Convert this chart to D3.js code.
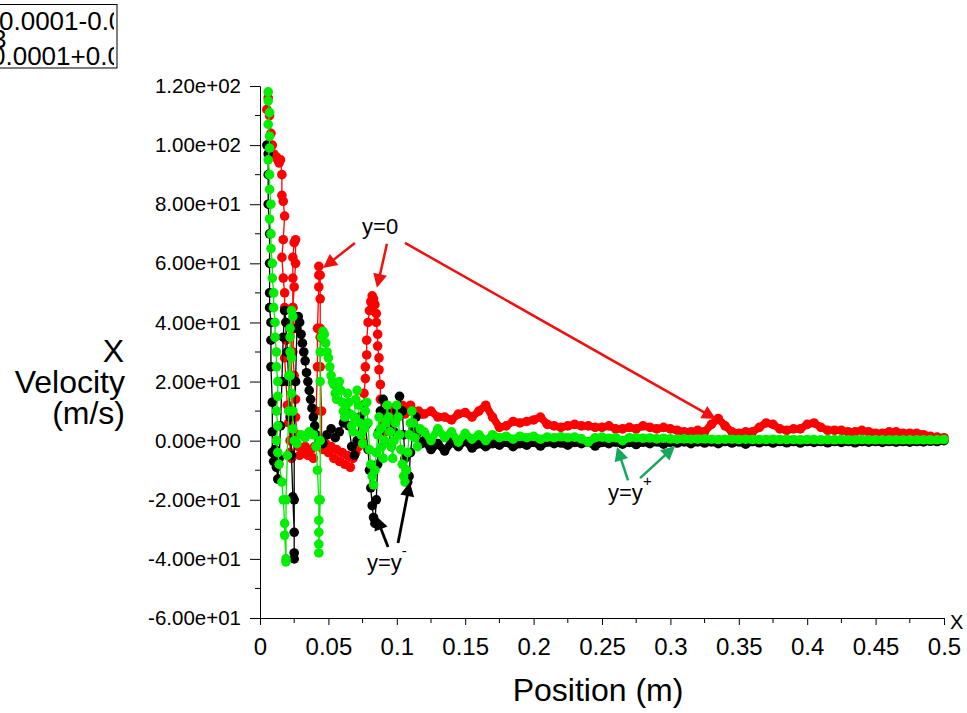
<!DOCTYPE html>
<html><head><meta charset="utf-8">
<script src="https://cdn.jsdelivr.net/npm/d3@7"></script>
<style>body{margin:0;background:#fff}svg{display:block;font-family:"Liberation Sans",Arial,sans-serif}</style>
</head><body><svg id="c" width="967" height="713"></svg>
<script>
// ---------- data ----------
const xTickValues = [0,0.05,0.1,0.15,0.2,0.25,0.3,0.35,0.4,0.45,0.5];
const xTickLabels = ["0","0.05","0.1","0.15","0.2","0.25","0.3","0.35","0.4","0.45","0.5"];
const yTickValues = [-60,-40,-20,0,20,40,60,80,100,120];
const yTickLabels = ["-6.00e+01","-4.00e+01","-2.00e+01","0.00e+00","2.00e+01","4.00e+01","6.00e+01","8.00e+01","1.00e+02","1.20e+02"];

const redEarly = [[0.005,112],[0.006,116],[0.007,110],[0.008,104],[0.009,100],[0.010,97],[0.012,96],[0.013,95],[0.014,94],[0.015,95],[0.016,90],[0.016,83],[0.017,81],[0.018,76],[0.017,68],[0.016,62],[0.017,55],[0.018,50],[0.018,45],[0.019,40],[0.019,34],[0.018,28],[0.019,20],[0.020,12],[0.021,6],[0.022,0],[0.022,-4],[0.023,-6],
 [0.023,10],[0.023,30],[0.024,45],[0.024,55],[0.024,62],[0.025,67],[0.026,68],[0.026,60],[0.025,52],[0.024,45],[0.025,38],[0.024,30],[0.025,22],[0.026,14],[0.026,8],[0.027,2],[0.028,-2],[0.029,-5],[0.031,-4],[0.033,-2],[0.035,-5],[0.037,-3],[0.039,-6],[0.040,-2],
 [0.041,10],[0.042,25],[0.042,38],[0.043,52],[0.043,56],[0.043,59],[0.044,56],[0.044,48],[0.044,38],[0.044,35],[0.044,25],[0.045,10],[0.045,0],[0.046,-3],[0.048,-1],[0.050,-4],[0.052,-2],[0.054,-6],[0.056,-3],[0.058,-7],[0.060,-4],[0.062,-8],[0.064,-5],[0.066,-9],[0.068,-6],[0.070,-4],[0.072,-2],[0.074,0],
 [0.075,5],[0.076,12],[0.076,16],[0.077,21],[0.077,25],[0.078,29],[0.078,34],[0.079,40],[0.080,44],[0.081,47],[0.082,49],[0.083,48],[0.084,46],[0.085,43],[0.085,40],[0.086,36],[0.086,32],[0.087,28],[0.087,24],[0.088,19],[0.088,14],[0.089,9],[0.090,5],
 [0.092,3],[0.094,6],[0.096,9],[0.098,11],[0.100,8],[0.102,10],[0.104,12],[0.106,9],[0.108,10],[0.110,12],[0.112,10],[0.114,8],[0.116,10],[0.118,9]];

const blackEarly = [[0.005,100],[0.006,97],[0.006,90],[0.006,80],[0.007,70],[0.007,60],[0.007,50],[0.007,45],[0.008,40],[0.008,34],[0.008,25],[0.009,13],[0.009,3],[0.009,-4],[0.010,-7],[0.011,-3],[0.012,-9],[0.013,-13],[0.014,-6],[0.015,5],[0.016,20],[0.017,35],[0.018,44],[0.019,40],[0.020,30],[0.021,20],[0.022,8],[0.023,-5],[0.024,-19],[0.025,-31],[0.025,-38],[0.025,-40],[0.025,-20],[0.025,0],[0.026,20],
 [0.027,38],[0.028,42],[0.029,40],[0.030,36],[0.031,33],[0.032,30],[0.033,27],[0.034,23],[0.035,20],[0.036,17],[0.037,14],[0.038,11],[0.039,8],[0.040,5],[0.041,2],[0.043,0],[0.046,-1],[0.049,2],[0.052,4],[0.055,1],[0.058,3],[0.061,6],[0.063,10],[0.065,5],[0.067,-2],[0.069,-5],[0.071,0],[0.073,8],[0.075,12],[0.077,5],[0.079,-3],
 [0.080,-10],[0.081,-16],[0.082,-22],[0.083,-26],[0.084,-28],[0.085,-20],[0.086,-8],[0.087,3],[0.088,10],[0.090,14],[0.092,10],[0.094,4],[0.096,-2],[0.098,3],[0.100,10],[0.102,15],[0.104,10],[0.105,2],[0.106,-6],[0.107,-10],[0.108,-14],[0.109,-12],[0.110,-4],[0.112,4],[0.114,8],[0.116,3],[0.118,-1]];

const greenEarly = [[0.006,118],[0.006,115],[0.007,111],[0.006,107],[0.007,103],[0.007,99],[0.006,95],[0.007,90],[0.007,85],[0.008,80],[0.007,75],[0.008,70],[0.008,65],[0.009,60],[0.009,55],[0.010,50],[0.010,45],[0.011,40],[0.011,35],[0.012,30],[0.012,25],[0.013,20],[0.013,15],[0.012,10],[0.013,5],[0.012,0],[0.013,-4],[0.014,-8],[0.016,-14],[0.017,-20],[0.018,-28],[0.018,-32],[0.019,-40],[0.019,-41],
 [0.019,-20],[0.020,-5],[0.021,10],[0.021,22],[0.022,30],[0.022,38],[0.023,44],[0.024,42],[0.022,35],[0.023,28],[0.022,22],[0.023,16],[0.024,10],[0.024,4],[0.025,0],[0.027,-1],[0.030,2],[0.033,1],[0.036,3],[0.039,2],[0.041,-2],[0.042,-10],[0.043,-20],[0.043,-27],[0.043,-31],[0.043,-35],[0.043,-38],[0.044,-20],[0.044,0],[0.044,20],[0.044,30],
 [0.045,35],[0.046,37],[0.047,36],[0.048,33],[0.049,30],[0.050,28],[0.051,25],[0.052,22],[0.053,20],[0.054,19],[0.055,16],[0.056,14],[0.057,18],[0.058,20],[0.059,17],[0.060,13],[0.061,10],[0.062,8],[0.063,12],[0.064,16],[0.065,13],[0.066,9],[0.067,5],[0.068,3],[0.069,8],[0.070,14],[0.071,17],[0.072,12],[0.073,6],[0.074,2],[0.075,-1],[0.076,4],[0.077,10],[0.078,13],[0.079,6],
 [0.080,-3],[0.081,-8],[0.082,-12],[0.083,-15],[0.084,-10],[0.085,-4],[0.086,2],[0.087,8],[0.088,4],[0.089,-2],[0.090,-6],[0.091,0],[0.092,6],[0.093,12],[0.094,8],[0.095,3],[0.096,-2],[0.097,-6],[0.098,0],[0.099,6],[0.100,12],[0.101,8],[0.102,2],[0.103,-3],[0.104,-8],[0.105,-12],[0.106,-14],[0.107,-10],[0.108,-4],[0.109,2],[0.110,6],[0.111,10],[0.112,6],[0.113,1],[0.115,-2],[0.117,4]];

const tailX = [0.120,0.125,0.130,0.135,0.140,0.145,0.150,0.155,0.160,0.165,
 0.170,0.175,0.180,0.185,0.190,0.195,0.200,0.205,0.210,0.215,
 0.220,0.225,0.230,0.235,0.240,0.245,0.250,0.255,0.260,0.265,
 0.270,0.275,0.280,0.285,0.290,0.295,0.300,0.305,0.310,0.315,
 0.320,0.325,0.330,0.335,0.340,0.345,0.350,0.355,0.360,0.365,
 0.370,0.375,0.380,0.385,0.390,0.395,0.400,0.405,0.410,0.415,
 0.420,0.425,0.430,0.435,0.440,0.445,0.450,0.455,0.460,0.465,
 0.470,0.475,0.480,0.485,0.490,0.495,0.500];
const redTail = [9,10,8,8,7,9,9.5,8,10,12,
 8,4.5,5,6.5,6,6.5,7,8,5.5,5,
 4.5,5,5.5,5,5,4.5,4.5,5,4,4,
 4.5,4,5,4.5,4,4.5,4,3.5,3,3,
 3.5,3,5.5,7.5,5,3,2.5,3,3,4.5,
 6,5.5,4,3.5,4,4,5.5,6,4.5,3.5,
 3.5,3.5,3,3,3.5,3,2.5,2.5,3,3,
 2.5,2.5,2.5,2,1.5,1.2,1];
const blackTail = [0,-3,-1,-3.5,-0.5,-2,0,-2.5,-1,-2,
 -1,-1.5,-0.5,-2,-1,-1.5,-0.5,-1.8,-0.5,-1,
 -0.8,-1.5,-0.6,-1,-0.5,-1.8,-0.6,-1,-0.5,-1.2,
 -0.6,-1.3,-0.5,-1,-0.4,-1.2,-0.5,-0.8,-0.4,-1,
 -0.4,-0.8,-0.4,-1,-0.3,-0.8,-0.4,-1.2,-0.3,-0.7,
 -0.3,-0.8,-0.3,-0.7,-0.3,-0.8,-0.3,-0.6,-0.3,-0.7,
 -0.3,-0.6,-0.3,-0.7,-0.3,-0.5,-0.3,-0.6,-0.3,-0.5,
 -0.3,-0.5,-0.3,-0.4,-0.2,-0.3,0];
const greenTail = [3,0,4,1,3,-0.5,2.5,0.5,2,0,
 2,1,1.5,0.5,1.5,1,1.5,0.5,1.2,1,
 1.3,1,1.2,0.6,-0.5,1,1.2,0.8,1,0,
 1,1,0.8,0.9,0.6,0.8,0.6,0.5,0.6,0.5,
 0.5,0.6,0.5,0.4,0.5,0.5,0.4,0.5,0.4,0.4,
 0.4,0.5,0.4,0.4,0.4,0.3,0.4,0.4,0.3,0.4,
 0.3,0.4,0.3,0.3,0.4,0.3,0.3,0.3,0.3,0.3,
 0.3,0.3,0.3,0.3,0.3,0.3,0.4];

const seriesNames = ["y=0","y=y-","y=y+"];
const seriesColors = ["#ff0000","#000000","#00ee00"];

// ---------- drawing ----------
const svg = d3.select("#c");
const x = d3.scaleLinear().domain([0,0.5]).range([260,944]);
const y = d3.scaleLinear().domain([-60,120]).range([618,86]);

// legend box (clipped, top-left)
const defs = svg.append("defs");
defs.append("clipPath").attr("id","lgclip").append("rect").attr("x",0).attr("y",5).attr("width",114).attr("height",62);
svg.append("rect").attr("x",-2).attr("y",4.5).attr("width",119).attr("height",63.5).attr("fill","#fff").attr("stroke","#000").attr("stroke-width",1);
const lg = svg.append("g").attr("clip-path","url(#lgclip)").style("font-size","26px").attr("fill","#000");
lg.append("text").attr("x",-1).attr("y",30).text("0.0001-0.0");
lg.append("text").attr("x",-8).attr("y",48).text("3");
lg.append("text").attr("x",-9).attr("y",65).text("0.0001+0.0");

// axes
const yAxis = d3.axisLeft(y).tickValues(yTickValues).tickFormat((d,i)=>yTickLabels[i]).tickSizeOuter(0).tickSize(10).tickPadding(9);
const gy = svg.append("g").attr("transform","translate(260,0)").call(yAxis);
gy.selectAll("text").style("font-size","20.5px").attr("fill","#000");
gy.select(".domain").attr("stroke","#000");
const yMinor = d3.range(-50,120,20);
gy.selectAll(".minor").data(yMinor).enter().append("line").attr("x1",-5).attr("x2",0).attr("y1",d=>y(d)).attr("y2",d=>y(d)).attr("stroke","#000");

const xAxis = d3.axisBottom(x).tickValues(xTickValues).tickFormat((d,i)=>xTickLabels[i]).tickSizeOuter(0).tickSize(7).tickPadding(13);
const gx = svg.append("g").attr("transform","translate(0,618)").call(xAxis);
gx.selectAll("text").style("font-size","24px").style("font-family","'Liberation Sans Narrow','Arial Narrow',sans-serif").attr("fill","#000");
const xMinor = d3.range(0.025,0.5,0.05);
gx.selectAll(".minor").data(xMinor).enter().append("line").attr("x1",d=>x(d)).attr("x2",d=>x(d)).attr("y1",0).attr("y2",5).attr("stroke","#000");
svg.append("text").attr("x",950).attr("y",629).style("font-size","20px").text("X");

// axis titles
const yt = svg.append("g").attr("text-anchor","end").style("font-size","32px");
yt.append("text").attr("x",124).attr("y",362).text("X");
yt.append("text").attr("x",125).attr("y",393).text("Velocity");
yt.append("text").attr("x",125).attr("y",424).text("(m/s)");
svg.append("text").attr("x",598).attr("y",701).attr("text-anchor","middle").style("font-size","32px").text("Position (m)");

// series
const series = [
  {early: redEarly, tail: redTail, c: seriesColors[0]},
  {early: blackEarly, tail: blackTail, c: seriesColors[1]},
  {early: greenEarly, tail: greenTail, c: seriesColors[2]}
];
const line = d3.line().x(d=>x(d[0])).y(d=>y(d[1]));
series.forEach(s=>{
  const tailPts = tailX.map((t,i)=>[t,s.tail[i]]);
  const pts = s.early.concat(tailPts);
  const g = svg.append("g");
  g.append("path").attr("d",line(pts)).attr("fill","none").attr("stroke",s.c).attr("stroke-width",1.3);
  // dense marker band in the tail
  g.append("path").attr("d",line([s.early[s.early.length-1]].concat(tailPts))).attr("fill","none").attr("stroke",s.c)
    .attr("stroke-width",7.5).attr("stroke-linejoin","round").attr("stroke-linecap","round");
  g.selectAll("circle").data(pts).enter().append("circle")
    .attr("cx",d=>x(d[0])).attr("cy",d=>y(d[1])).attr("r",4.8).attr("fill",s.c);
});

// annotations (data coordinates)
function arrowHead(g, x1,y1,x2,y2,color,w){
  const a = Math.atan2(y2-y1,x2-x1), L=14, W=7;
  const bx = x2 - L*Math.cos(a), by = y2 - L*Math.sin(a);
  g.append("line").attr("x1",x1).attr("y1",y1).attr("x2",bx+2*Math.cos(a)).attr("y2",by+2*Math.sin(a)).attr("stroke",color).attr("stroke-width",w);
  g.append("path").attr("d",`M${x2},${y2}L${bx+W*Math.sin(a)},${by-W*Math.cos(a)}L${bx-W*Math.sin(a)},${by+W*Math.cos(a)}Z`).attr("fill",color);
}
const ann = svg.append("g");
const redArrows = [[0.0694,66.9,0.0461,58.4],[0.0928,66.6,0.0855,51.7],[0.106,66.9,0.3333,7.3]];
const blackArrows = [[0.0936,-36,0.0848,-25.5],[0.1009,-34.6,0.1096,-14]];
const greenArrows = [[0.269,-13.4,0.261,-2.1],[0.2778,-12.7,0.3034,-1.8]];
redArrows.forEach(a=>arrowHead(ann,x(a[0]),y(a[1]),x(a[2]),y(a[3]),"#f01010",2.5));
blackArrows.forEach(a=>arrowHead(ann,x(a[0]),y(a[1]),x(a[2]),y(a[3]),"#000",2.8));
greenArrows.forEach(a=>arrowHead(ann,x(a[0]),y(a[1]),x(a[2]),y(a[3]),"#14a85a",2.5));
ann.append("text").attr("x",x(0.0746)).attr("y",y(69.9)).style("font-size","22px").text("y=0");
const t2 = ann.append("text").attr("x",x(0.0782)).attr("y",y(-43.6)).style("font-size","22px");
t2.append("tspan").text("y=y");
t2.append("tspan").attr("dy",-14).style("font-size","15px").text("-");
const t3 = ann.append("text").attr("x",x(0.2544)).attr("y",y(-20.2)).style("font-size","22px");
t3.append("tspan").text("y=y");
t3.append("tspan").attr("dy",-14).style("font-size","15px").text("+");
</script></body></html>
